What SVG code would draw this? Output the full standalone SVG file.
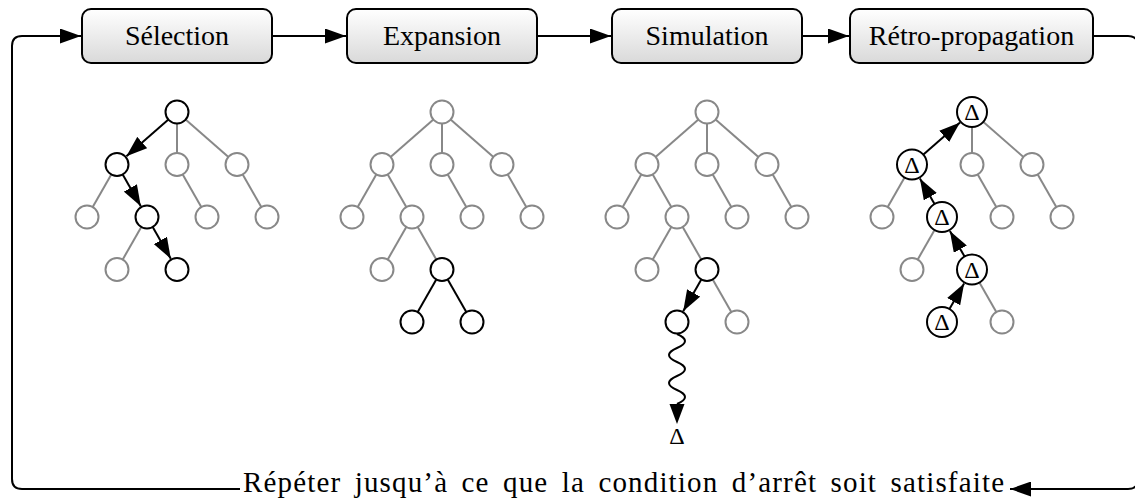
<svg xmlns="http://www.w3.org/2000/svg" width="1135" height="500" viewBox="0 0 1135 500">
  <defs>
    <linearGradient id="boxFill" x1="0" y1="0" x2="0" y2="1">
      <stop offset="0" stop-color="#ffffff"/>
      <stop offset="1" stop-color="#d9d9d9"/>
    </linearGradient>
    <marker id="arr" markerUnits="userSpaceOnUse" markerWidth="21" markerHeight="15" refX="21" refY="7.5" orient="auto">
      <path d="M0,0 L21,7.5 L0,15 z" fill="#000"/>
    </marker>
    <style>
      .box { fill: url(#boxFill); stroke: #000; stroke-width: 2; }
      .lbl { font-family: "Liberation Serif", "Times New Roman", serif; font-size: 28px; text-anchor: middle; fill: #000; }
      .txt { font-family: "Liberation Serif", "Times New Roman", serif; font-size: 29px; letter-spacing: 1px; word-spacing: 5px; fill: #000; }
      .delta { font-family: "Liberation Serif", "Times New Roman", serif; font-size: 24px; text-anchor: middle; fill: #000; }
      .g { fill: #fff; stroke: #888; stroke-width: 2; }
      .b { fill: #fff; stroke: #000; stroke-width: 2; }
      .ge { stroke: #888; stroke-width: 2; fill: none; }
      .be { stroke: #000; stroke-width: 2; fill: none; }
      .ar { stroke: #000; stroke-width: 2; fill: none; marker-end: url(#arr); }
    </style>
  </defs>

  <!-- connectors: main loop, stage arrows and tree edges -->
  <g id="connectors">
    <path class="ar" d="M240,489 H22 Q12,489 12,479 V46 Q12,36 22,36 H81"/>
    <path class="ar" d="M1093,36 H1128 Q1138,36 1138,46 V479 Q1138,489 1128,489 H1010"/>
    <line class="ar" x1="272" y1="36" x2="346" y2="36"/>
    <line class="ar" x1="537" y1="36" x2="611" y2="36"/>
    <line class="ar" x1="802" y1="36" x2="849" y2="36"/>

    <!-- tree 1: selection -->
    <line class="ge" x1="177" y1="112" x2="177" y2="164.5"/>
    <line class="ge" x1="177" y1="112" x2="237" y2="164.5"/>
    <line class="ge" x1="117" y1="164.5" x2="87" y2="217"/>
    <line class="ge" x1="177" y1="164.5" x2="207" y2="217"/>
    <line class="ge" x1="237" y1="164.5" x2="267" y2="217"/>
    <line class="ge" x1="147" y1="217" x2="117" y2="269.5"/>
    <line class="ar" x1="177" y1="112" x2="126.4" y2="156.3"/>
    <line class="ar" x1="117" y1="164.5" x2="140.8" y2="206.2"/>
    <line class="ar" x1="147" y1="217" x2="170.8" y2="258.7"/>

    <!-- tree 2: expansion -->
    <line class="ge" x1="442" y1="112" x2="382" y2="164.5"/>
    <line class="ge" x1="442" y1="112" x2="442" y2="164.5"/>
    <line class="ge" x1="442" y1="112" x2="502" y2="164.5"/>
    <line class="ge" x1="382" y1="164.5" x2="352" y2="217"/>
    <line class="ge" x1="382" y1="164.5" x2="412" y2="217"/>
    <line class="ge" x1="442" y1="164.5" x2="472" y2="217"/>
    <line class="ge" x1="502" y1="164.5" x2="532" y2="217"/>
    <line class="ge" x1="412" y1="217" x2="382" y2="269.5"/>
    <line class="ge" x1="412" y1="217" x2="442" y2="269.5"/>
    <line class="be" x1="442" y1="269.5" x2="412" y2="322"/>
    <line class="be" x1="442" y1="269.5" x2="472" y2="322"/>

    <!-- tree 3: simulation -->
    <line class="ge" x1="707" y1="112" x2="647" y2="164.5"/>
    <line class="ge" x1="707" y1="112" x2="707" y2="164.5"/>
    <line class="ge" x1="707" y1="112" x2="767" y2="164.5"/>
    <line class="ge" x1="647" y1="164.5" x2="617" y2="217"/>
    <line class="ge" x1="647" y1="164.5" x2="677" y2="217"/>
    <line class="ge" x1="707" y1="164.5" x2="737" y2="217"/>
    <line class="ge" x1="767" y1="164.5" x2="797" y2="217"/>
    <line class="ge" x1="677" y1="217" x2="647" y2="269.5"/>
    <line class="ge" x1="677" y1="217" x2="707" y2="269.5"/>
    <line class="ge" x1="707" y1="269.5" x2="737" y2="322"/>
    <line class="ar" x1="707" y1="269.5" x2="683.2" y2="311.2"/>
    <!-- random playout drawn as a snake -->
    <path class="be" d="M677,334 Q693,341 677,348 Q661,355 677,362 Q693,369 677,376 Q661,383 677,390 Q693,397 677,404"/>
    <path d="M669.5,404 L684.5,404 L677,424 z" fill="#000"/>

    <!-- tree 4: back-propagation -->
    <line class="ge" x1="972" y1="112" x2="972" y2="164.5"/>
    <line class="ge" x1="972" y1="112" x2="1032" y2="164.5"/>
    <line class="ge" x1="912" y1="164.5" x2="882" y2="217"/>
    <line class="ge" x1="972" y1="164.5" x2="1002" y2="217"/>
    <line class="ge" x1="1032" y1="164.5" x2="1062" y2="217"/>
    <line class="ge" x1="942" y1="217" x2="912" y2="269.5"/>
    <line class="ge" x1="972" y1="269.5" x2="1002" y2="322"/>
    <line class="ar" x1="912" y1="164.5" x2="960" y2="122.5"/>
    <line class="ar" x1="942" y1="217" x2="919.9" y2="178.4"/>
    <line class="ar" x1="972" y1="269.5" x2="949.9" y2="230.9"/>
    <line class="ar" x1="942" y1="322" x2="964.1" y2="283.4"/>
  </g>

  <!-- stage boxes -->
  <g id="selection">
    <rect class="box" x="82" y="9" width="190" height="54" rx="9"/>
    <text class="lbl" x="177" y="45">Sélection</text>
  </g>
  <g id="expansion">
    <rect class="box" x="347" y="9" width="190" height="54" rx="9"/>
    <text class="lbl" x="442" y="45">Expansion</text>
  </g>
  <g id="simulation">
    <rect class="box" x="612" y="9" width="190" height="54" rx="9"/>
    <text class="lbl" x="707" y="45">Simulation</text>
  </g>
  <g id="retro-propagation">
    <rect class="box" x="850" y="9" width="243" height="54" rx="9"/>
    <text class="lbl" x="971.5" y="45">Rétro-propagation</text>
  </g>

  <!-- tree 1 nodes -->
  <g id="t1-root"><circle class="b" cx="177" cy="112" r="11.5"/></g>
  <g id="t1-a"><circle class="b" cx="117" cy="164.5" r="11.5"/></g>
  <g id="t1-b"><circle class="g" cx="177" cy="164.5" r="11.5"/></g>
  <g id="t1-c"><circle class="g" cx="237" cy="164.5" r="11.5"/></g>
  <g id="t1-aa"><circle class="g" cx="87" cy="217" r="11.5"/></g>
  <g id="t1-ab"><circle class="b" cx="147" cy="217" r="11.5"/></g>
  <g id="t1-ba"><circle class="g" cx="207" cy="217" r="11.5"/></g>
  <g id="t1-ca"><circle class="g" cx="267" cy="217" r="11.5"/></g>
  <g id="t1-aba"><circle class="g" cx="117" cy="269.5" r="11.5"/></g>
  <g id="t1-abb"><circle class="b" cx="177" cy="269.5" r="11.5"/></g>

  <!-- tree 2 nodes -->
  <g id="t2-root"><circle class="g" cx="442" cy="112" r="11.5"/></g>
  <g id="t2-a"><circle class="g" cx="382" cy="164.5" r="11.5"/></g>
  <g id="t2-b"><circle class="g" cx="442" cy="164.5" r="11.5"/></g>
  <g id="t2-c"><circle class="g" cx="502" cy="164.5" r="11.5"/></g>
  <g id="t2-aa"><circle class="g" cx="352" cy="217" r="11.5"/></g>
  <g id="t2-ab"><circle class="g" cx="412" cy="217" r="11.5"/></g>
  <g id="t2-ba"><circle class="g" cx="472" cy="217" r="11.5"/></g>
  <g id="t2-ca"><circle class="g" cx="532" cy="217" r="11.5"/></g>
  <g id="t2-aba"><circle class="g" cx="382" cy="269.5" r="11.5"/></g>
  <g id="t2-abb"><circle class="b" cx="442" cy="269.5" r="11.5"/></g>
  <g id="t2-abba"><circle class="b" cx="412" cy="322" r="11.5"/></g>
  <g id="t2-abbb"><circle class="b" cx="472" cy="322" r="11.5"/></g>

  <!-- tree 3 nodes -->
  <g id="t3-root"><circle class="g" cx="707" cy="112" r="11.5"/></g>
  <g id="t3-a"><circle class="g" cx="647" cy="164.5" r="11.5"/></g>
  <g id="t3-b"><circle class="g" cx="707" cy="164.5" r="11.5"/></g>
  <g id="t3-c"><circle class="g" cx="767" cy="164.5" r="11.5"/></g>
  <g id="t3-aa"><circle class="g" cx="617" cy="217" r="11.5"/></g>
  <g id="t3-ab"><circle class="g" cx="677" cy="217" r="11.5"/></g>
  <g id="t3-ba"><circle class="g" cx="737" cy="217" r="11.5"/></g>
  <g id="t3-ca"><circle class="g" cx="797" cy="217" r="11.5"/></g>
  <g id="t3-aba"><circle class="g" cx="647" cy="269.5" r="11.5"/></g>
  <g id="t3-abb"><circle class="b" cx="707" cy="269.5" r="11.5"/></g>
  <g id="t3-abba"><circle class="b" cx="677" cy="322" r="11.5"/></g>
  <g id="t3-abbb"><circle class="g" cx="737" cy="322" r="11.5"/></g>
  <g id="t3-result"><text class="delta" x="677" y="444">Δ</text></g>

  <!-- tree 4 nodes -->
  <g id="t4-root"><circle class="b" cx="972" cy="112" r="15"/><text class="delta" x="972" y="120">Δ</text></g>
  <g id="t4-a"><circle class="b" cx="912" cy="164.5" r="15"/><text class="delta" x="912" y="172.5">Δ</text></g>
  <g id="t4-b"><circle class="g" cx="972" cy="164.5" r="11.5"/></g>
  <g id="t4-c"><circle class="g" cx="1032" cy="164.5" r="11.5"/></g>
  <g id="t4-aa"><circle class="g" cx="882" cy="217" r="11.5"/></g>
  <g id="t4-ab"><circle class="b" cx="942" cy="217" r="15"/><text class="delta" x="942" y="225">Δ</text></g>
  <g id="t4-ba"><circle class="g" cx="1002" cy="217" r="11.5"/></g>
  <g id="t4-ca"><circle class="g" cx="1062" cy="217" r="11.5"/></g>
  <g id="t4-aba"><circle class="g" cx="912" cy="269.5" r="11.5"/></g>
  <g id="t4-abb"><circle class="b" cx="972" cy="269.5" r="15"/><text class="delta" x="972" y="277.5">Δ</text></g>
  <g id="t4-abba"><circle class="b" cx="942" cy="322" r="15"/><text class="delta" x="942" y="330">Δ</text></g>
  <g id="t4-abbb"><circle class="g" cx="1002" cy="322" r="11.5"/></g>

  <!-- loop label -->
  <g id="loop-label">
    <text class="txt" x="243" y="492" textLength="762" lengthAdjust="spacing">Répéter jusqu’à ce que la condition d’arrêt soit satisfaite</text>
  </g>
</svg>
